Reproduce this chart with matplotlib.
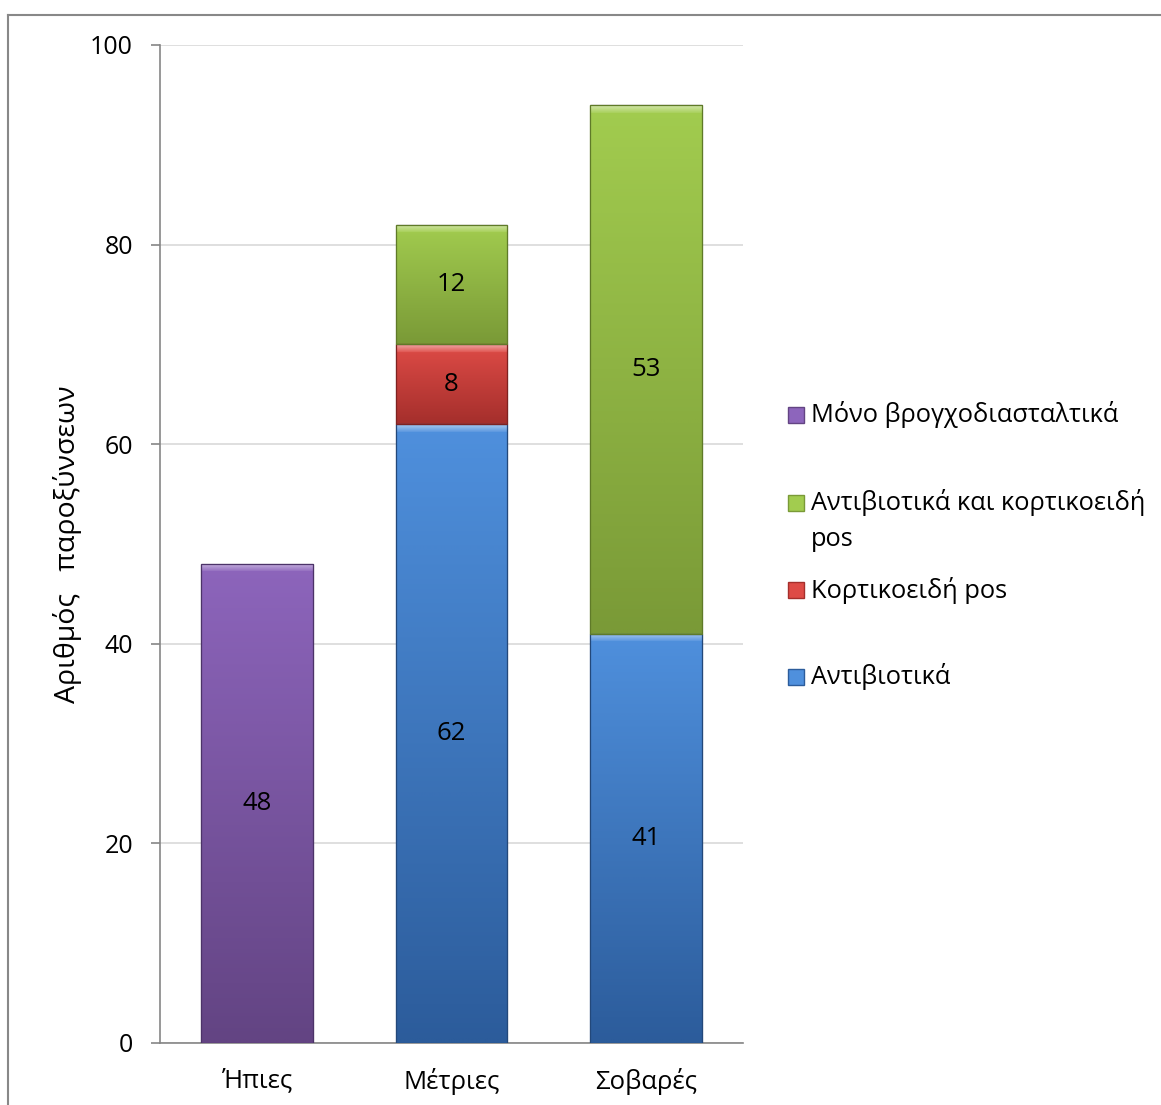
import numpy as np
import matplotlib
matplotlib.use("Agg")
import matplotlib.pyplot as plt
from matplotlib.colors import LinearSegmentedColormap
from matplotlib.patches import Rectangle
from matplotlib.lines import Line2D

plt.rcParams['font.family'] = ['Open Sans', 'DejaVu Sans']

# data
categories = ['Ήπιες', 'Μέτριες', 'Σοβαρές']
series_names = ['Αντιβιοτικά', 'Κορτικοειδή pos',
                'Αντιβιοτικά και κορτικοειδή pos', 'Μόνο βρογχοδιασταλτικά']
antibiotics = [0, 62, 41]
corticoids = [0, 8, 0]
both = [0, 12, 53]
bronchodilators = [48, 0, 0]
series_values = [antibiotics, corticoids, both, bronchodilators]

# (light top, dark bottom, edge)
shades = [('#4f90dd', '#2c5c9b', '#23487a'),
          ('#de4b46', '#a52f2c', '#7e2220'),
          ('#a2cc4f', '#7a9a37', '#5f7a28'),
          ('#8d65bc', '#634483', '#4c3368')]

W, H = 1161, 1105
fig = plt.figure(figsize=(W / 100, H / 100), dpi=100)
ax = fig.add_axes([160 / W, 62 / H, 583 / W, 998 / H])

x = np.arange(len(categories))
bottom = np.zeros(len(categories))
bars = []
for vals, (light, dark, edge) in zip(series_values, shades):
    b = ax.bar(x, vals, width=0.576, bottom=bottom, color=light,
               edgecolor=edge, linewidth=0.8, zorder=3)
    bars.append(b)
    bottom += np.array(vals)

ax.set_xlim(-0.5, 2.5)
ax.set_ylim(0, 100)

# gradient fill for each segment, with a light bevel on top
for b, (light, dark, edge) in zip(bars, shades):
    cmap = LinearSegmentedColormap.from_list('g', [dark, light, '#ffffff'])
    for p in b.patches:
        h = p.get_height()
        if h <= 0:
            continue
        npx = max(int(h / 100 * 998), 10)
        grad = np.linspace(0.5, 0.0, npx)
        grad[:8] = np.linspace(0.75, 0.55, 8)
        im = ax.imshow(grad.reshape(-1, 1), extent=[p.get_x(), p.get_x() + p.get_width(),
                       p.get_y(), p.get_y() + h], aspect='auto', cmap=cmap,
                       vmin=0, vmax=1, origin='upper', zorder=3.5,
                       interpolation='bilinear')
        im.set_clip_path(p)
        ax.add_patch(Rectangle((p.get_x(), p.get_y()), p.get_width(), h,
                               fill=False, edgecolor=edge, linewidth=0.9, zorder=4))

ax.set_xlim(-0.5, 2.5)
ax.set_ylim(0, 100)

# value labels
for b, vals in zip(bars, series_values):
    for p, v in zip(b.patches, vals):
        if v > 0:
            ax.text(p.get_x() + p.get_width() / 2, p.get_y() + v / 2, str(v),
                    ha='center', va='center', fontsize=18.5, color='black', zorder=5)

ax.set_yticks([0, 20, 40, 60, 80, 100])
ax.set_xticks(x)
ax.set_xticklabels(categories)
ax.tick_params(axis='y', length=6.5, width=1.2, color='#868686', pad=13, labelsize=18)
ax.tick_params(axis='x', length=0, pad=18, labelsize=18.5)
ax.yaxis.grid(True, color='#d9d9d9', linewidth=1.2, zorder=0)
ax.set_axisbelow(True)
for s in ['top', 'right']:
    ax.spines[s].set_visible(False)
for s in ['left', 'bottom']:
    ax.spines[s].set_color('#868686')
    ax.spines[s].set_linewidth(1.2)

ax.set_ylabel('Αριθμός   παροξύνσεων', fontsize=20.5, labelpad=6)

# legend, drawn to match the original layout (entries listed in reverse)
leg_y = [415, 503, 590, 677]
for i, (name, (light, dark, edge)) in enumerate(zip(series_names[::-1], shades[::-1])):
    yc = leg_y[i]
    fig.add_artist(Rectangle((788 / W, 1 - (yc + 8) / H), 16 / W, 16 / H,
                             transform=fig.transFigure, facecolor=light,
                             edgecolor=dark, linewidth=1))
    if name == 'Αντιβιοτικά και κορτικοειδή pos':
        fig.text(811 / W, 1 - yc / H, 'Αντιβιοτικά και κορτικοειδή', fontsize=18.3,
                 ha='left', va='center')
        fig.text(811 / W, 1 - (yc + 37) / H, 'pos', fontsize=18.3,
                 ha='left', va='center')
    else:
        fig.text(811 / W, 1 - yc / H, name, fontsize=18.3, ha='left', va='center')

# chart frame (left and top edges visible)
fig.add_artist(Line2D([8 / W, 8 / W], [0, 1 - 15 / H], transform=fig.transFigure,
                      color='#888888', linewidth=1.5))
fig.add_artist(Line2D([8 / W, 1], [1 - 15 / H, 1 - 15 / H], transform=fig.transFigure,
                      color='#888888', linewidth=1.5))

fig.savefig('out.png', dpi=100)
